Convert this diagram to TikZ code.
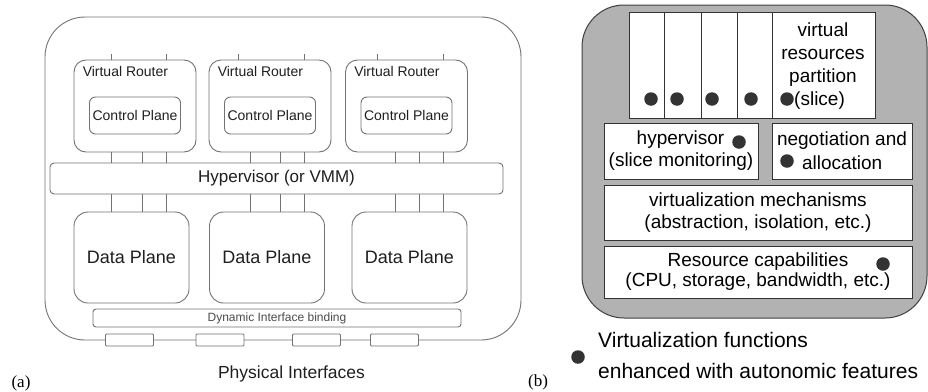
\documentclass[tikz,border=0pt]{standalone}
\usepackage{fontspec}
\setmainfont{Liberation Sans}
\newfontfamily\panelserif{Liberation Serif}
\definecolor{wiregray}{gray}{0.45}
\definecolor{panelgray}{gray}{0.70}
\definecolor{dotgray}{gray}{0.2}
\begin{document}
\begin{tikzpicture}[x=1pt,y=-1pt,
  lbox/.style={draw=wiregray,line width=0.9pt,fill=white,inner sep=0pt,text=black!88},
  vrbox/.style={lbox,rounded corners=12pt,minimum width=122pt,minimum height=92pt},
  cpbox/.style={lbox,rounded corners=6pt,minimum width=91pt,minimum height=37pt,font=\fontsize{14}{16}\selectfont},
  dpbox/.style={lbox,rounded corners=14pt,minimum width=115pt,minimum height=91pt,font=\fontsize{18}{20}\selectfont},
  barbox/.style={lbox,rounded corners=4pt},
  pibox/.style={lbox,rounded corners=1pt,minimum width=48pt,minimum height=12pt},
  wire/.style={draw=wiregray,line width=0.9pt},
  rbox/.style={draw=black!80,line width=1pt,fill=white,inner sep=0pt},
  rline/.style={draw=black!80,line width=1pt},
  rtext/.style={font=\fontsize{19}{23}\selectfont,inner sep=0pt,align=center},
  adot/.style={circle,fill=dotgray,inner sep=0pt,minimum size=13.5pt}]
  \useasboundingbox (0,0) rectangle (928,391);
  % (a) router with virtual routers
  \node[lbox,rounded corners=40pt,minimum width=476pt,minimum height=323pt] (router) at (283,178.5) {};
  \foreach \n/\cx in {1/135,2/270,3/406.5}{
    \node[vrbox] (vr\n) at (\cx,106) {};
    \node[anchor=base west,inner sep=0pt,text=black!88,font=\fontsize{14}{16}\selectfont]
      (vrname\n) at ([shift={(9,17)}]vr\n.north west) {Virtual Router};
    \node[cpbox] (cp\n) at (\cx,115.5) {Control Plane};
  }
  \node[barbox,minimum width=453pt,minimum height=31pt,font=\fontsize{17}{19}\selectfont]
    (hyp) at (276.5,178.5) {Hypervisor (or VMM)};
  \foreach \n/\cx in {1/131.5,2/267,3/409.5}
    \node[dpbox] (dp\n) at (\cx,257.5) {Data Plane};
  \foreach \n/\xa/\xb in {1/111/166,2/238/304,3/377/443}
    \foreach \lx in {\xa,\xb}
      \draw[wire] (vr\n.north -| \lx,0) -- ++(0,-6);
  \foreach \n/\xa/\xb/\xc in {1/111/142/166,2/250/280/304,3/395/419/443}
    \foreach \lx in {\xa,\xb,\xc}{
      \draw[wire] (vr\n.south -| \lx,0) -- (hyp.north -| \lx,0);
      \draw[wire] (hyp.south -| \lx,0) -- (dp\n.north -| \lx,0);
    }
  \node[barbox,rounded corners=3pt,minimum width=368pt,minimum height=18pt,text=black!70,
    font=\fontsize{12}{14}\selectfont] (dib) at (277,318) {Dynamic Interface binding};
  \foreach \n/\cx in {1/129.5,2/220,3/316.5,4/394.5}
    \node[pibox] (pi\n) at (\cx,340) {};
  \node[anchor=base,inner sep=0pt,text=black!88,font=\fontsize{17.5}{20}\selectfont]
    (phys) at (291.5,378) {Physical Interfaces};
  \node[anchor=base,inner sep=0pt,font=\panelserif\fontsize{17}{19}\selectfont] (capa) at (21,387) {(a)};
  \node[anchor=base,inner sep=0pt,font=\panelserif\fontsize{17}{19}\selectfont] (capb) at (538,386) {(b)};
  % (b) autonomic virtualization functions
  \node[draw=black!75,fill=panelgray,line width=1pt,rounded corners=42pt,inner sep=0pt,
    minimum width=345pt,minimum height=313pt] (panel) at (754.5,161.5) {};
  \node[rbox,minimum width=246pt,minimum height=106pt] (slice) at (752,65) {};
  \foreach \lx in {664,701,737,772}
    \draw[rline] (slice.north -| \lx,0) -- (slice.south -| \lx,0);
  \node[rtext] (partition) at (823,55) {virtual\\resources\\partition};
  \node[rtext,anchor=base west] (slicetag) at (794,105) {(slice)};
  \node[rbox,rtext,align=right,font=\fontsize{19}{22}\selectfont,minimum width=154pt,minimum height=56pt]
    (hv) at (681,151) {hypervisor\hspace*{29pt}\\(slice monitoring)};
  \node[rbox,rtext,align=left,font=\fontsize{19}{24}\selectfont,minimum width=140pt,minimum height=56pt]
    (neg) at (842,151) {negotiation and\\\hspace*{25pt}allocation};
  \node[rbox,rtext,font=\fontsize{19}{22}\selectfont,minimum width=308pt,minimum height=55pt]
    (vm) at (758,212.5) {virtualization mechanisms\\(abstraction, isolation, etc.)};
  \node[rbox,rtext,font=\fontsize{19}{20}\selectfont,minimum width=308pt,minimum height=52pt]
    (rc) at (758,272) {Resource capabilities\\(CPU, storage, bandwidth, etc.)};
  \foreach \n/\cx/\cy in {1/651/99,2/677/99,3/712/99,4/751/99,5/787/99,6/739/142,7/787/161,8/883/264}
    \node[adot] (dot\n) at (\cx,\cy) {};
  \node[adot] (legdot) at (578,357) {};
  \node[rtext,align=left,anchor=north west,font=\fontsize{21}{31}\selectfont]
    (legend) at (598,332) {Virtualization functions\\enhanced with autonomic features};
\end{tikzpicture}
\end{document}
